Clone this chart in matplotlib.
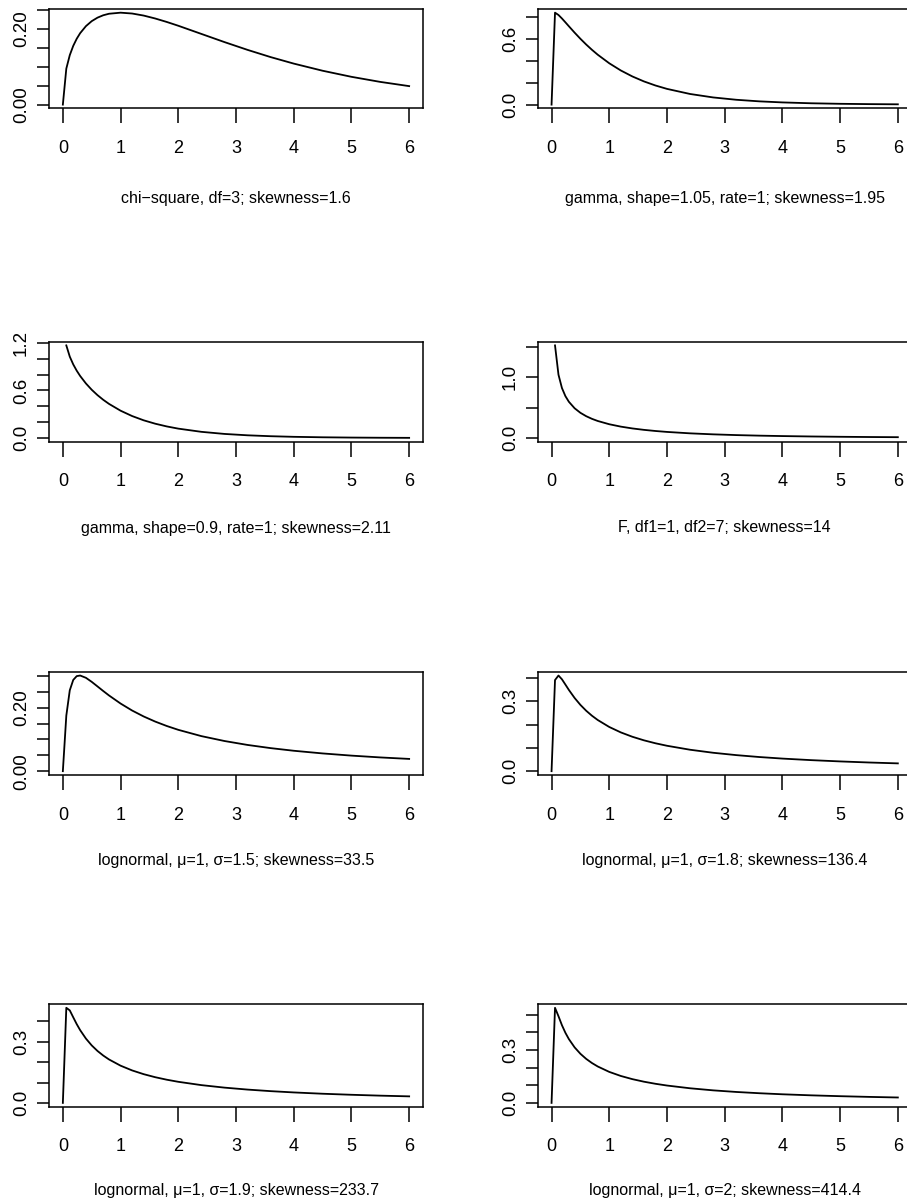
import numpy as np
import matplotlib
matplotlib.use('Agg')
import matplotlib.pyplot as plt

plt.rcParams['font.family'] = ['Liberation Sans', 'DejaVu Sans']

# ---- data (density values) ----
x = [0, 0.06, 0.12, 0.18, 0.24, 0.3, 0.4, 0.5, 0.6, 0.7, 0.8, 1.0, 1.2, 1.4,
     1.6, 1.8, 2.0, 2.4, 2.8, 3.2, 3.6, 4.0, 4.5, 5.0, 5.5, 6.0]

chisq_df3 = [0, 0.0948, 0.1302, 0.1547, 0.1733, 0.1881, 0.2066, 0.2197, 0.2289,
             0.2352, 0.2392, 0.2420, 0.2398, 0.2344, 0.2267, 0.2176, 0.2076,
             0.1861, 0.1646, 0.1441, 0.1251, 0.1080, 0.0892, 0.0732, 0.0598, 0.0487]

gamma_105 = [0, 0.8405, 0.8194, 0.7875, 0.7523, 0.7165, 0.6577, 0.6018, 0.5495,
             0.5011, 0.4564, 0.3779, 0.3122, 0.2576, 0.2123, 0.1749, 0.1439,
             0.0973, 0.0657, 0.0444, 0.0299, 0.0202, 0.0123, 0.0075, 0.0046, 0.0028]

gamma_09 = [None, 1.1676, 1.0260, 0.9279, 0.8490, 0.7819, 0.6875, 0.6083, 0.5405,
            0.4816, 0.4300, 0.3443, 0.2768, 0.2231, 0.1803, 0.1459, 0.1181,
            0.0778, 0.0513, 0.0340, 0.0225, 0.0149, 0.0089, 0.0054, 0.0032, 0.0019]

f_1_7 = [None, 1.5190, 1.0383, 0.8198, 0.6867, 0.5943, 0.4874, 0.4131, 0.3577,
         0.3143, 0.2792, 0.2257, 0.1866, 0.1569, 0.1336, 0.1149, 0.0996,
         0.0764, 0.0599, 0.0477, 0.0386, 0.0316, 0.0249, 0.0199, 0.0161, 0.0132]

lnorm_15 = [0, 0.1750, 0.2547, 0.2873, 0.2993, 0.3012, 0.2940, 0.2813, 0.2669,
            0.2524, 0.2384, 0.2130, 0.1910, 0.1723, 0.1562, 0.1423, 0.1302,
            0.1104, 0.0950, 0.0826, 0.0726, 0.0643, 0.0559, 0.0490, 0.0433, 0.0386]

lnorm_18 = [0, 0.3915, 0.4110, 0.3948, 0.3721, 0.3491, 0.3144, 0.2848, 0.2597,
            0.2383, 0.2199, 0.1899, 0.1666, 0.1479, 0.1326, 0.1199, 0.1092,
            0.0921, 0.0791, 0.0690, 0.0608, 0.0541, 0.0474, 0.0419, 0.0373, 0.0335]

lnorm_19 = [0, 0.4670, 0.4543, 0.4203, 0.3869, 0.3572, 0.3157, 0.2823, 0.2551,
            0.2325, 0.2133, 0.1828, 0.1595, 0.1411, 0.1262, 0.1139, 0.1036,
            0.0873, 0.0750, 0.0654, 0.0577, 0.0514, 0.0450, 0.0399, 0.0356, 0.0321]

lnorm_20 = [0, 0.5399, 0.4922, 0.4411, 0.3980, 0.3623, 0.3151, 0.2788, 0.2499,
            0.2264, 0.2068, 0.1760, 0.1529, 0.1349, 0.1204, 0.1085, 0.0986,
            0.0830, 0.0712, 0.0621, 0.0549, 0.0489, 0.0429, 0.0381, 0.0341, 0.0307]

series = [chisq_df3, gamma_105, gamma_09, f_1_7, lnorm_15, lnorm_18, lnorm_19, lnorm_20]

titles = [
    "chi\u2212square, df=3; skewness=1.6",
    "gamma, shape=1.05, rate=1; skewness=1.95",
    "gamma, shape=0.9, rate=1; skewness=2.11",
    "F, df1=1, df2=7; skewness=14",
    "lognormal, \u03bc=1, \u03c3=1.5; skewness=33.5",
    "lognormal, \u03bc=1, \u03c3=1.8; skewness=136.4",
    "lognormal, \u03bc=1, \u03c3=1.9; skewness=233.7",
    "lognormal, \u03bc=1, \u03c3=2; skewness=414.4",
]

x_ticks = [0, 1, 2, 3, 4, 5, 6]
x_ticklabels = ["0", "1", "2", "3", "4", "5", "6"]

y_ticks = [
    [0, 0.05, 0.10, 0.15, 0.20, 0.25],
    [0, 0.2, 0.4, 0.6, 0.8],
    [0, 0.2, 0.4, 0.6, 0.8, 1.0, 1.2],
    [0, 0.5, 1.0, 1.5],
    [0, 0.05, 0.10, 0.15, 0.20, 0.25, 0.30],
    [0, 0.1, 0.2, 0.3, 0.4],
    [0, 0.1, 0.2, 0.3, 0.4],
    [0, 0.1, 0.2, 0.3, 0.4, 0.5],
]
y_ticklabels = [
    ["0.00", "", "", "", "0.20", ""],
    ["0.0", "", "", "0.6", ""],
    ["0.0", "", "", "0.6", "", "", "1.2"],
    ["0.0", "", "1.0", ""],
    ["0.00", "", "", "", "0.20", "", ""],
    ["0.0", "", "", "0.3", ""],
    ["0.0", "", "", "0.3", ""],
    ["0.0", "", "", "0.3", "", ""],
]

# ---- layout (pixels) ----
W, H = 907, 1204
fig = plt.figure(figsize=(W / 100, H / 100), dpi=100)
col_left = [49, 537.7]
box_w = 374
row_top = [9, 341.7, 671.7, 1004]
row_bot = [108.3, 441.7, 775, 1106.7]
title_y = [199, 528, 860, 1190]

xa = np.array(x, dtype=float)
for i, ys in enumerate(series):
    r, c = divmod(i, 2)
    left = col_left[c]
    top = row_top[r]
    bot = row_bot[r]
    ax = fig.add_axes([left / W, 1 - bot / H, box_w / W, (bot - top) / H])
    ya = np.array(ys, dtype=float)
    ax.plot(xa, ya, color='black', lw=1.3, solid_joinstyle='round')
    ymax = np.nanmax(ya)
    ax.set_xlim(-0.24, 6.24)
    ax.set_ylim(-0.04 * ymax, 1.04 * ymax)
    ax.set_xticks(x_ticks)
    ax.set_xticklabels(x_ticklabels, fontsize=13)
    ax.set_yticks(y_ticks[i])
    ax.set_yticklabels(y_ticklabels[i], fontsize=13.5, rotation=90, va='center')
    ax.tick_params(axis='x', length=10.8, width=1.1, pad=12, color='black')
    ax.tick_params(axis='y', length=8.6, width=1.1, pad=5, color='black')
    for s in ax.spines.values():
        s.set_linewidth(1.1)
        s.set_color('black')
    fig.text((left + box_w / 2) / W, 1 - title_y[r] / H, titles[i],
             ha='center', va='center', fontsize=11.5)

fig.savefig('out.png', dpi=100)
